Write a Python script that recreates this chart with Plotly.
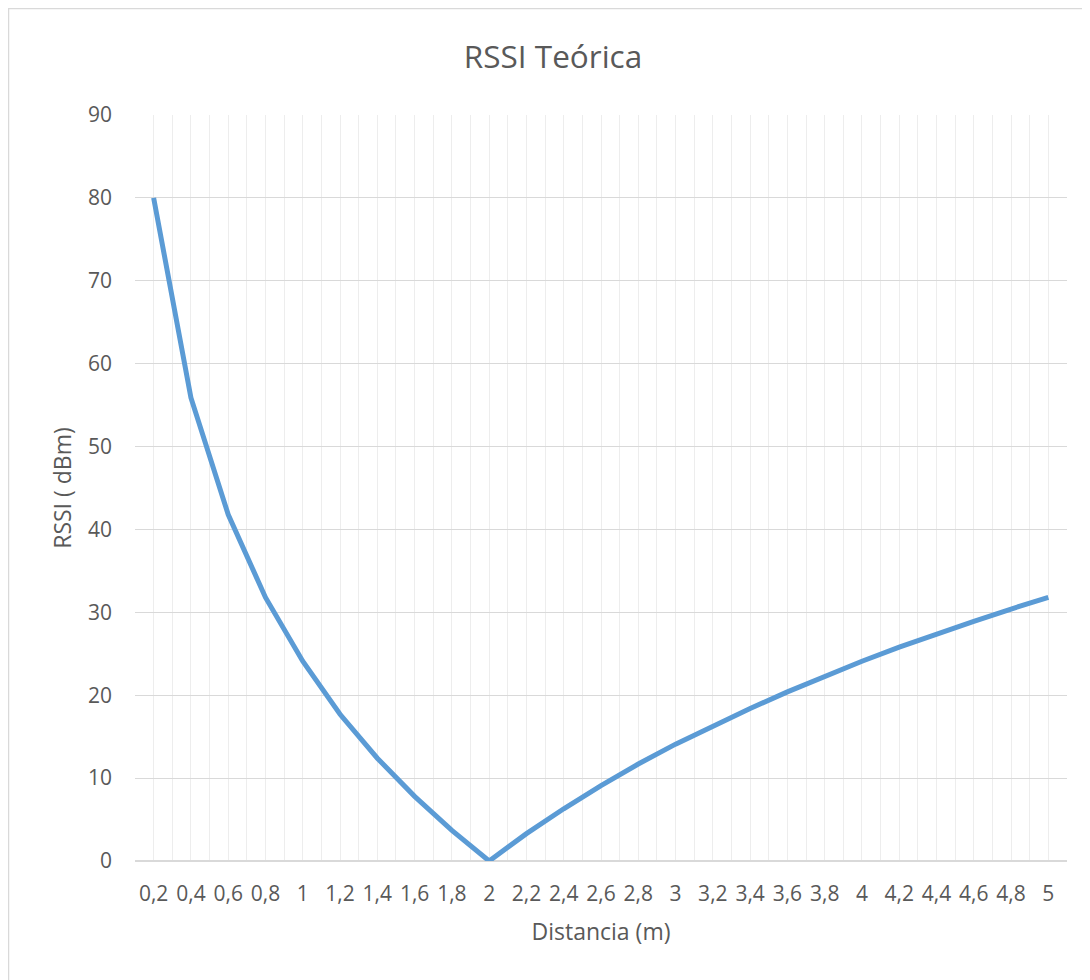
import plotly.graph_objects as go

distancia = [0.2, 0.4, 0.6, 0.8, 1.0, 1.2, 1.4, 1.6, 1.8, 2.0, 2.2, 2.4, 2.6,
             2.8, 3.0, 3.2, 3.4, 3.6, 3.8, 4.0, 4.2, 4.4, 4.6, 4.8, 5.0]
rssi = [80.0, 55.9, 41.8, 31.8, 24.1, 17.7, 12.4, 7.8, 3.7, 0.0, 3.3, 6.3, 9.1,
        11.7, 14.1, 16.3, 18.4, 20.4, 22.3, 24.1, 25.8, 27.4, 28.9, 30.4, 31.8]

# page is offset by the 8px body margin
OFF = 8
W, H = 1090 - OFF, 980 - OFF
L, R, T, B = 135 - OFF, 1067 - OFF, 115 - OFF, 861 - OFF

fig = go.Figure()
fig.add_trace(go.Scatter(x=distancia, y=rssi, mode="lines",
                         line=dict(color="#5B9BD5", width=5),
                         hoverinfo="skip", showlegend=False))

font = "Open Sans, Liberation Sans, sans-serif"
fig.update_layout(
    width=W, height=H,
    margin=dict(l=L, r=W - R, t=T, b=H - B),
    paper_bgcolor="white", plot_bgcolor="white",
    separators=",.",
    font=dict(family=font, color="#595959", size=21),
    title=dict(text="RSSI Teórica", x=(553 - OFF) / W, xanchor="center",
               y=1 - (57 - OFF) / H, yanchor="middle",
               font=dict(size=31.5, color="#595959", family=font)),
    xaxis=dict(range=[0.1, 5.1], tick0=0.2, dtick=0.2, showgrid=True,
               gridcolor="#EDEDED", gridwidth=1, zeroline=False,
               showline=False, ticks="", ticklabelstandoff=18,
               tickfont=dict(size=21, color="#595959"),
               minor=dict(tick0=0.1, dtick=0.2, showgrid=True,
                          gridcolor="#EDEDED", gridwidth=1, ticks=""),
               title=dict(text="Distancia (m)", standoff=17,
                          font=dict(size=23, color="#595959"))),
    yaxis=dict(range=[0, 90], dtick=10, showgrid=True, gridcolor="#D9D9D9",
               gridwidth=1, zeroline=True, zerolinecolor="#D9D9D9",
               zerolinewidth=1.5, showline=False, ticks="",
               ticklabelstandoff=22,
               tickfont=dict(size=21, color="#595959"),
               title=dict(text="RSSI ( dBm)", standoff=9,
                          font=dict(size=23, color="#595959"))),
    shapes=[dict(type="rect", xref="paper", yref="paper",
                 x0=(0.5 - L) / (R - L), x1=(W + 5 - L) / (R - L),
                 y0=(B - (H + 5)) / (B - T), y1=(B - 0.5) / (B - T),
                 line=dict(color="#D9D9D9", width=1.5), layer="below")],
)

fig.write_html("out.html")
